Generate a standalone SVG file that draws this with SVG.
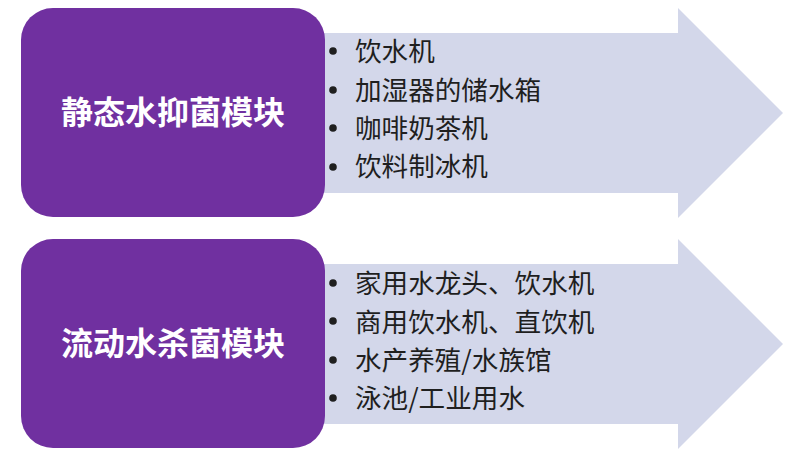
<svg xmlns="http://www.w3.org/2000/svg" width="800" height="456" viewBox="0 0 800 456">
<style>
.arrow{fill:#D3D7EA}
.box{fill:#7030A0}
.title{font-family:"Noto Sans CJK SC","Noto Sans",sans-serif;font-size:32px;font-weight:bold;fill:#FFFFFF;text-anchor:middle}
.item{font-family:"Noto Sans CJK SC","Noto Sans",sans-serif;font-size:26.6px;fill:#1F1F1F}
.dot{fill:#1F1F1F}
</style>
<rect width="800" height="456" fill="#FFFFFF"/>
<g id="connectors">
<polygon class="arrow" points="300,33 678,33 678,8 783,113 678,218 678,193 300,193"/>
<polygon class="arrow" points="300,264 678,264 678,239 783,344 678,449 678,424 300,424"/>
</g>
<g id="node-static">
<rect class="box" x="21" y="8" width="304" height="209" rx="32" ry="32"/>
<text class="title" x="173" y="124">静态水抑菌模块</text>
</g>
<g id="list-static">
<circle class="dot" cx="333" cy="51" r="3.8"/>
<circle class="dot" cx="333" cy="90" r="3.8"/>
<circle class="dot" cx="333" cy="128" r="3.8"/>
<circle class="dot" cx="333" cy="167" r="3.8"/>
<text class="item" x="355" y="61">饮水机</text>
<text class="item" x="355" y="99.5">加湿器的储水箱</text>
<text class="item" x="355" y="138">咖啡奶茶机</text>
<text class="item" x="355" y="176">饮料制冰机</text>
</g>
<g id="node-flow">
<rect class="box" x="21" y="239" width="304" height="209" rx="32" ry="32"/>
<text class="title" x="173" y="355">流动水杀菌模块</text>
</g>
<g id="list-flow">
<circle class="dot" cx="333" cy="283" r="3.8"/>
<circle class="dot" cx="333" cy="321" r="3.8"/>
<circle class="dot" cx="333" cy="360" r="3.8"/>
<circle class="dot" cx="333" cy="398" r="3.8"/>
<text class="item" x="355" y="293">家用水龙头、饮水机</text>
<text class="item" x="355" y="331.5">商用饮水机、直饮机</text>
<text class="item" x="355" y="370">水产养殖/水族馆</text>
<text class="item" x="355" y="408">泳池/工业用水</text>
</g>
</svg>
